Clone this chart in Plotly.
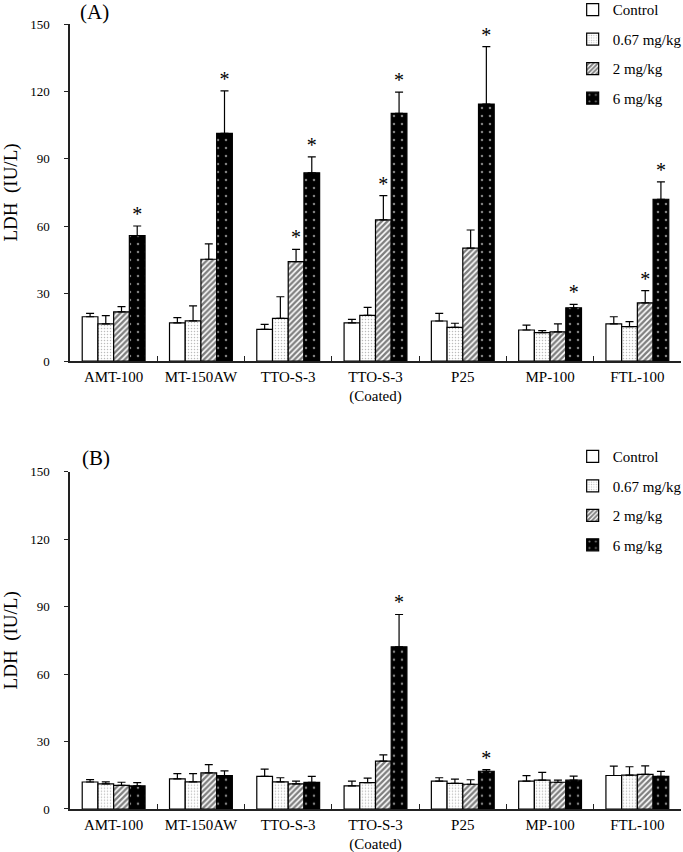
import plotly.graph_objects as go

# material names on the x axis
categories = ["AMT-100", "MT-150AW", "TTO-S-3", "TTO-S-3<br>(Coated)", "P25", "MP-100", "FTL-100"]
doses = ["Control", "0.67 mg/kg", "2 mg/kg", "6 mg/kg"]

# panel (A)
a_control = [19.7, 17.0, 14.1, 17.0, 17.8, 13.8, 16.5]
a_control_err = [1.5, 2.3, 2.2, 1.5, 3.4, 2.2, 3.2]
a_low = [16.5, 17.9, 19.0, 20.3, 15.0, 12.6, 15.3]
a_low_err = [3.7, 6.6, 9.6, 3.6, 1.8, 0.9, 2.2]
a_mid = [21.9, 45.3, 44.2, 62.8, 50.2, 13.0, 25.9]
a_mid_err = [2.3, 6.8, 5.5, 10.8, 8.1, 3.5, 5.4]
a_high = [55.8, 101.3, 83.8, 110.2, 114.4, 23.7, 72.0]
a_high_err = [4.3, 18.9, 7.1, 9.5, 25.5, 1.5, 7.7]
a_sig = [
    [0, 0, 0, 0, 0, 0, 0],
    [0, 0, 0, 0, 0, 0, 0],
    [0, 0, 1, 1, 0, 0, 1],
    [1, 1, 1, 1, 1, 1, 1],
]

# panel (B)
b_control = [12.0, 13.4, 14.5, 10.3, 12.4, 12.4, 14.9]
b_control_err = [1.1, 2.3, 3.2, 2.1, 1.5, 2.4, 4.2]
b_low = [11.2, 12.1, 12.1, 11.7, 11.4, 12.8, 15.1]
b_low_err = [0.9, 3.6, 1.8, 2.0, 1.9, 3.5, 3.7]
b_mid = [10.5, 16.1, 11.2, 21.3, 11.0, 11.9, 15.4]
b_mid_err = [1.4, 3.6, 1.2, 2.8, 2.0, 0.9, 3.8]
b_high = [10.3, 14.9, 11.8, 72.1, 16.8, 12.8, 14.5]
b_high_err = [1.4, 2.1, 2.7, 14.4, 0.7, 1.8, 2.2]
b_sig = [
    [0, 0, 0, 0, 0, 0, 0],
    [0, 0, 0, 0, 0, 0, 0],
    [0, 0, 0, 0, 0, 0, 0],
    [0, 0, 0, 1, 1, 0, 0],
]

FONT = "Liberation Serif"
BARGAP = 0.28

patterns = [
    dict(shape="", bgcolor="white", fgcolor="white"),
    dict(shape=".", bgcolor="white", fgcolor="#777777", size=3, solidity=0.2),
    dict(shape="/", bgcolor="white", fgcolor="black", size=4, solidity=0.6),
    dict(shape=".", bgcolor="black", fgcolor="white", size=8, solidity=0.08),
]
fills = ["white", "white", "white", "black"]


def add_panel(fig, series, errors, sigs, xa, ya, legend):
    for i, (vals, errs) in enumerate(zip(series, errors)):
        fig.add_trace(go.Bar(
            name=doses[i],
            x=categories,
            y=vals,
            xaxis=xa,
            yaxis=ya,
            offsetgroup=str(i),
            legend=legend,
            legendgroup=legend + str(i),
            marker=dict(
                color=fills[i],
                pattern=patterns[i],
                line=dict(color="black", width=1.2),
            ),
            error_y=dict(
                type="data",
                symmetric=False,
                array=errs,
                arrayminus=[0] * len(errs),
                color="black",
                thickness=1.2,
                width=4,
            ),
            hoverinfo="skip",
        ))
    # significance stars sit on top of the error bars
    for i, sig in enumerate(sigs):
        tops = [v + e for v, e in zip(series[i], errors[i])]
        fig.add_trace(go.Scatter(
            x=categories,
            y=tops,
            xaxis=xa,
            yaxis=ya,
            offsetgroup=str(i),
            mode="text",
            text=["*" if s else "" for s in sig],
            textposition="top center",
            textfont=dict(size=20, color="black", family=FONT),
            cliponaxis=False,
            showlegend=False,
            hoverinfo="skip",
        ))


fig = go.Figure()
add_panel(fig,
          [a_control, a_low, a_mid, a_high],
          [a_control_err, a_low_err, a_mid_err, a_high_err],
          a_sig, "x", "y", "legend")
add_panel(fig,
          [b_control, b_low, b_mid, b_high],
          [b_control_err, b_low_err, b_mid_err, b_high_err],
          b_sig, "x2", "y2", "legend2")

xaxis_style = dict(
    type="category",
    showline=True,
    linecolor="#222222",
    linewidth=1.5,
    ticks="inside",
    tickson="boundaries",
    ticklen=5,
    tickcolor="#222222",
    ticklabelstandoff=1,
    tickfont=dict(size=15, family=FONT, color="black"),
    showgrid=False,
    zeroline=False,
)
yaxis_style = dict(
    range=[0, 150],
    tickvals=[0, 30, 60, 90, 120, 150],
    showline=True,
    linecolor="#222222",
    linewidth=1.5,
    ticks="outside",
    ticklen=4,
    tickcolor="#222222",
    ticklabelstandoff=12,
    tickfont=dict(size=13, family=FONT, color="black"),
    showgrid=False,
    zeroline=False,
    title=dict(text="LDH  (IU/L)", font=dict(size=19, family=FONT, color="black"), standoff=18),
)
legend_style = dict(
    xref="paper",
    yref="paper",
    x=0.8227,
    xanchor="left",
    yanchor="top",
    font=dict(size=15, family=FONT, color="black"),
    bgcolor="rgba(0,0,0,0)",
    traceorder="grouped",
    tracegroupgap=7,
    itemclick=False,
)

fig.update_layout(
    width=683,
    height=852,
    margin=dict(l=70, r=2, t=24, b=43, autoexpand=False),
    paper_bgcolor="white",
    plot_bgcolor="white",
    barmode="group",
    bargap=BARGAP,
    bargroupgap=0,
    scattermode="group",
    scattergap=BARGAP,
    font=dict(family=FONT, color="black"),
    xaxis=dict(xaxis_style, domain=[0, 1], anchor="y"),
    yaxis=dict(yaxis_style, domain=[0.5707, 1], anchor="x"),
    xaxis2=dict(xaxis_style, domain=[0, 1], anchor="y2"),
    yaxis2=dict(yaxis_style, domain=[0, 0.4297], anchor="x2"),
    legend=dict(legend_style, y=1.039),
    legend2=dict(legend_style, y=0.470),
    annotations=[
        dict(text="(A)", xref="paper", yref="paper", x=0.013, y=1.0153,
             xanchor="left", yanchor="middle", showarrow=False,
             font=dict(size=21, family=FONT, color="black")),
        dict(text="(B)", xref="paper", yref="paper", x=0.016, y=0.447,
             xanchor="left", yanchor="middle", showarrow=False,
             font=dict(size=21, family=FONT, color="black")),
    ],
)

fig.write_html("out.html", config={"displayModeBar": False},
               post_script="document.body.style.margin='0';")
